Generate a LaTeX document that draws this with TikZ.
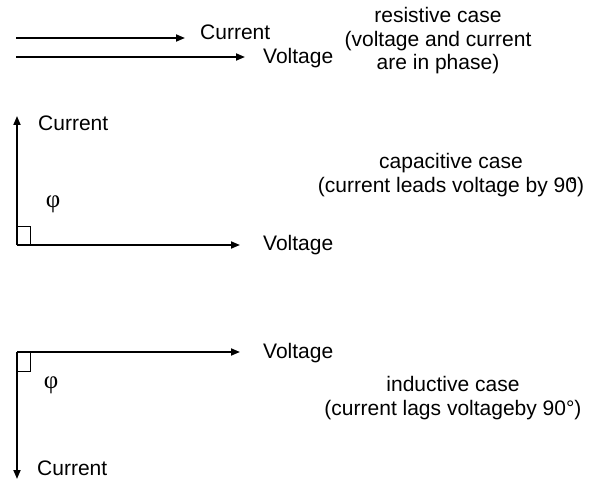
\documentclass[tikz,border=0pt]{standalone}
\usepackage{fontspec}
\setmainfont{Liberation Sans}
\newfontfamily\greekfont{Liberation Serif}
\usetikzlibrary{arrows.meta}
\begin{document}
\begin{tikzpicture}[x=1pt, y=-1pt,
  phasor/.style={line width=1.8pt, -{Triangle[length=9pt,width=7pt]}},
  corner/.style={line width=0.8pt},
  lbl/.style={inner sep=0pt, font=\fontsize{21}{23.5}\selectfont},
  note/.style={lbl, align=center, anchor=base},
  angle/.style={inner sep=0pt, font=\greekfont\fontsize{25}{25}\selectfont}]
\useasboundingbox (0,0) rectangle (593,481);

% resistive case: both phasors along the same direction
\coordinate (r0i) at (16,38);
\coordinate (r1i) at (185,38);
\coordinate (r0v) at (16,57);
\coordinate (r1v) at (245,57);
\draw[phasor] (r0i) -- (r1i);
\draw[phasor] (r0v) -- (r1v);
\node[lbl, anchor=base west] (ri) at (200,40) {Current};
\node[lbl, anchor=base west] (rv) at (263,64) {Voltage};
% the base anchor of a multi-line note sits on its last line
\node[note] (rnote) at (438,70) {resistive case\\(voltage and current\\are in phase)};

% capacitive case: current 90 degrees ahead
\coordinate (c0) at (17,245);
\coordinate (ci) at (17,116);
\coordinate (cv) at (240,245);
\draw[phasor] (c0) -- (ci);
\draw[phasor] (c0) -- (cv);
\draw[corner] (c0) rectangle ++(13,-19);
\node[lbl, anchor=base west] (cil) at (38,131) {Current};
\node[lbl, anchor=west] (cvl) at (263,245) {Voltage};
\node[angle] (cphi) at (53,204) {φ};
\node[note] (cnote) at (451,192) {capacitive case\\(current leads voltage by 90\llap{°})};

% inductive case: current 90 degrees behind
\coordinate (l0) at (17,352);
\coordinate (li) at (17,479);
\coordinate (lv) at (240,352);
\draw[phasor] (l0) -- (lv);
\draw[phasor] (l0) -- (li);
\draw[corner] (l0) rectangle ++(13,19);
\node[lbl, anchor=west] (lvl) at (263,353) {Voltage};
\node[lbl, anchor=base west] (lil) at (37,475) {Current};
\node[angle] (lphi) at (51,385) {φ};
\node[note] (lnote) at (453,415) {inductive case\\(current lags voltageby 90°)};
\end{tikzpicture}
\end{document}
